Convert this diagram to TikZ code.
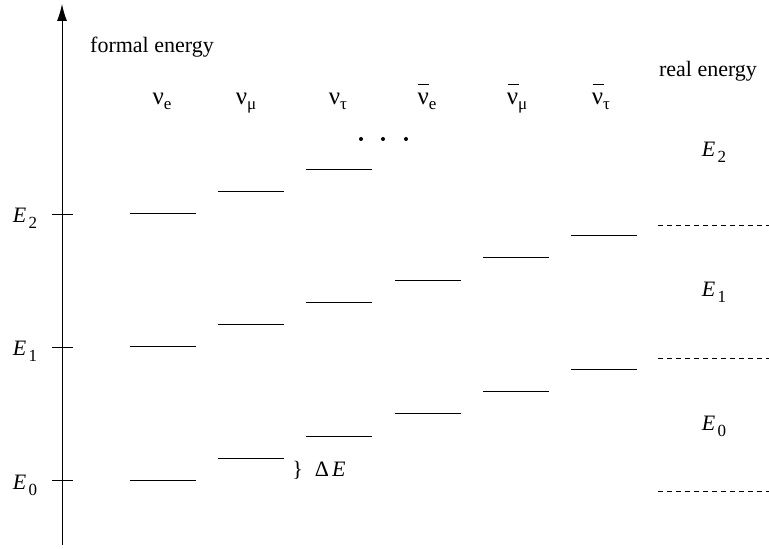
\documentclass[tikz,border=0pt]{standalone}
\usepackage{fontspec}
\setmainfont{Liberation Serif}
\usetikzlibrary{arrows.meta}

\newcommand{\lowsub}[2]{\raisebox{-#1}{\fontsize{8.5}{10}\selectfont #2}}
\newcommand{\En}[1]{\textit{E}\kern1.2pt\lowsub{3pt}{#1}}
\newcommand{\nulab}[1]{ν\lowsub{2.5pt}{#1}}
\newcommand{\nubarlab}[1]{\makebox[0pt][l]{\kern0.4pt\raisebox{10pt}{\rule{5.5pt}{0.5pt}}}ν\lowsub{2.5pt}{#1}}

\begin{document}
\begin{tikzpicture}[
    x=0.5pt, y=-0.5pt,
    lbl/.style={font=\fontsize{11}{13}\selectfont, inner sep=0pt},
    flav/.style={font=\fontsize{12.5}{14}\selectfont, inner sep=0pt, anchor=base},
    level/.style={line width=0.5pt},
    realline/.style={line width=0.45pt, dash pattern=on 2.5pt off 2pt},
    axis/.style={line width=0.5pt, -{Latex[length=8.5pt,width=5pt]}}
]
\useasboundingbox (0,0) rectangle (769,549);

% energy axis
\coordinate (bot) at (62,545);
\coordinate (top) at (62,4);
\draw[axis] (bot) -- (top);
\draw[level] (52,215) -- (73,215);
\draw[level] (52,348) -- (73,348);
\draw[level] (52,480) -- (73,480);

\node[lbl, anchor=base] (EL2) at (25,223) {\En{2}};
\node[lbl, anchor=base] (EL1) at (25,356) {\En{1}};
\node[lbl, anchor=base] (EL0) at (25,489) {\En{0}};

\node[lbl, anchor=base] (formal) at (152,53) {formal energy};
\node[lbl, anchor=base] (real) at (708,77) {real energy};

% flavours
\node[flav] (nue) at (162,105) {\nulab{e}};
\node[flav] (num) at (246,105) {\nulab{μ}};
\node[flav] (nut) at (338,105) {\nulab{τ}};
\node[flav] (nube) at (427,105) {\nubarlab{e}};
\node[flav] (nubm) at (517,105) {\nubarlab{μ}};
\node[flav] (nubt) at (601,105) {\nubarlab{τ}};

% formal levels
\draw[level] (130,214) -- (196,214);
\draw[level] (130,347) -- (196,347);
\draw[level] (130,480) -- (196,480);
\draw[level] (218,192) -- (284,192);
\draw[level] (218,325) -- (284,325);
\draw[level] (218,458) -- (284,458);
\draw[level] (306,170) -- (372,170);
\draw[level] (306,303) -- (372,303);
\draw[level] (306,436) -- (372,436);
\draw[level] (395,281) -- (461,281);
\draw[level] (395,413) -- (461,413);
\draw[level] (483,258) -- (549,258);
\draw[level] (483,391) -- (549,391);
\draw[level] (571,236) -- (637,236);
\draw[level] (571,369) -- (637,369);

% dots
\fill (361,139) circle (2);
\fill (383,139) circle (2);
\fill (406,139) circle (2);

\node[lbl, anchor=base west] (dE) at (292,476) {\}\hspace{6pt}Δ\kern1.5pt\textit{E}};

% real levels
\draw[realline] (658,225) -- (769,225);
\draw[realline] (658,358) -- (769,358);
\draw[realline] (658,491) -- (769,491);

\node[lbl, anchor=base] (ER2) at (714,157) {\En{2}};
\node[lbl, anchor=base] (ER1) at (714,297) {\En{1}};
\node[lbl, anchor=base] (ER0) at (714,430) {\En{0}};

\end{tikzpicture}
\end{document}
